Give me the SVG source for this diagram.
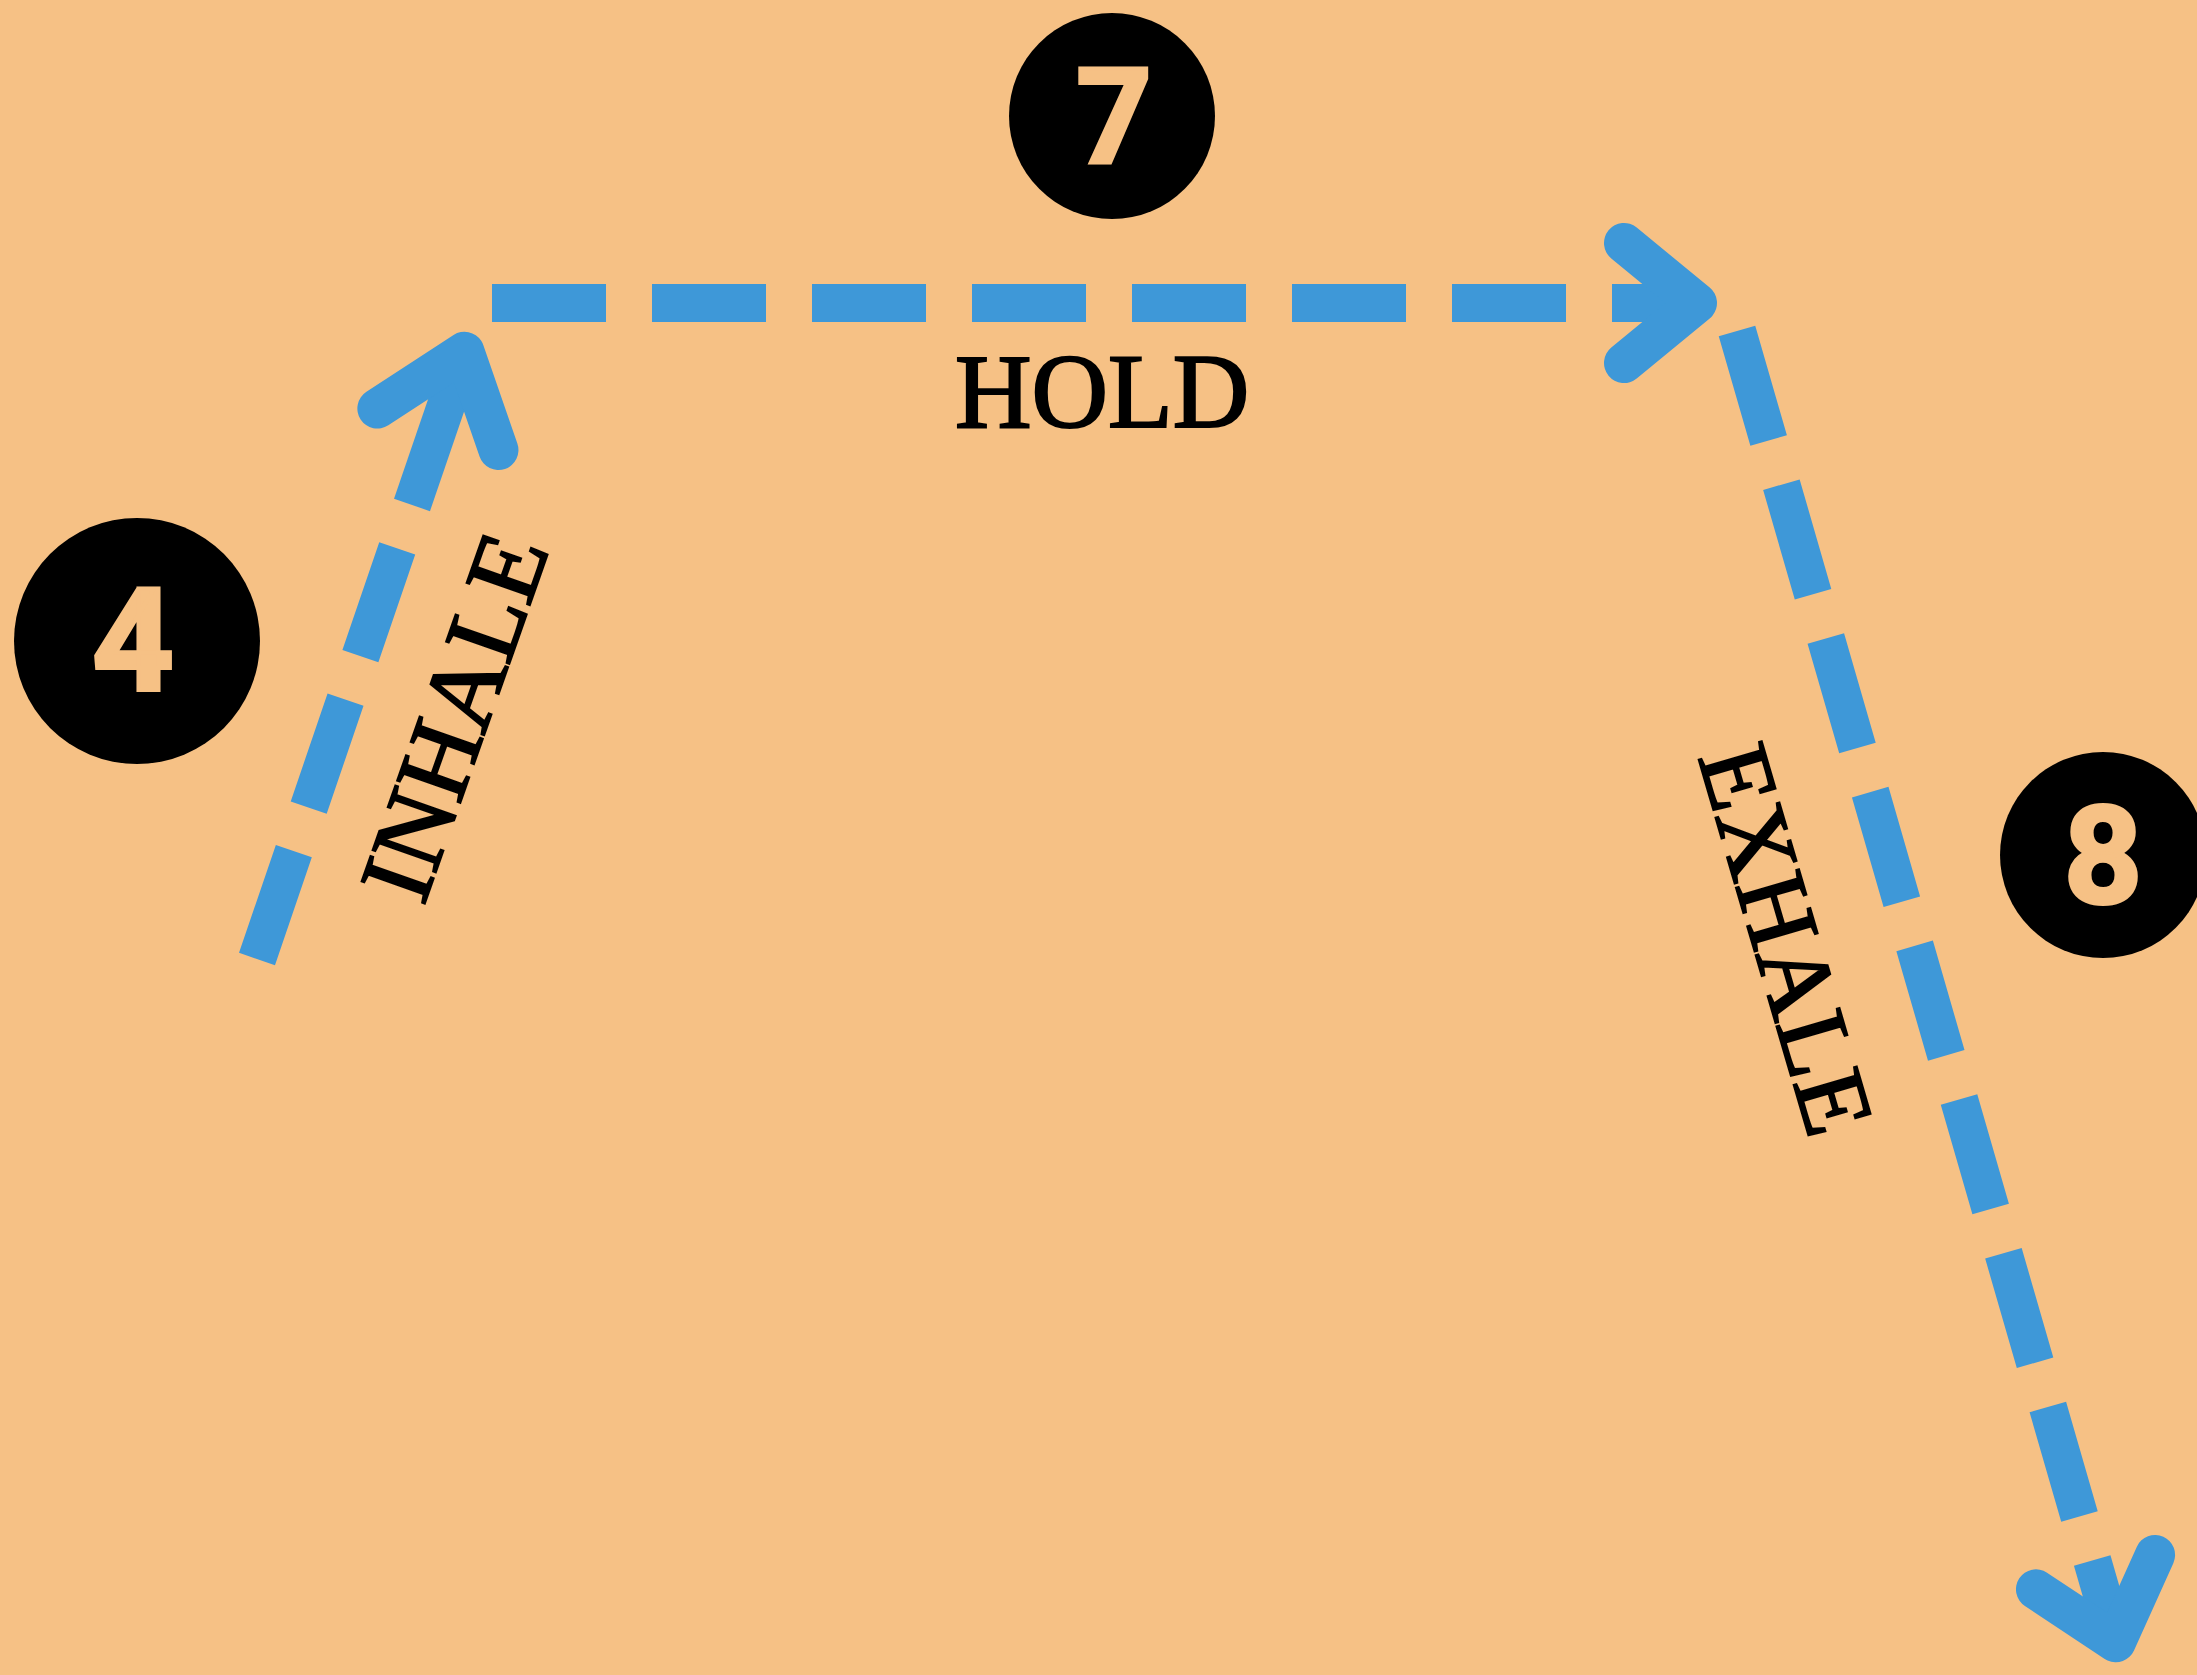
<svg xmlns="http://www.w3.org/2000/svg" width="2197" height="1675" viewBox="0 0 2197 1675">
  <style>
    .dash { fill: none; stroke: #3E98D8; stroke-width: 38; stroke-dasharray: 114 46; stroke-linecap: butt; }
    .stem { fill: none; stroke: #3E98D8; stroke-width: 38; stroke-linecap: butt; }
    .chev { fill: none; stroke: #3E98D8; stroke-width: 40; stroke-linecap: round; stroke-linejoin: round; }
    .badge { fill: #000000; }
    .num { fill: #F6C185; stroke: #F6C185; stroke-width: 4; text-anchor: middle; }
    .lbl { fill: #000000; stroke: #000000; stroke-width: 2.2; }
  </style>
  <rect x="0" y="0" width="2197" height="1675" fill="#F6C185"/>

  <g id="connectors">
    <g id="inhale-arrow">
      <line class="dash" x1="257" y1="959" x2="412" y2="505"/>
      <g transform="translate(412 505) rotate(-71.1)">
        <path class="stem" d="M0,0 L162,0"/>
        <path class="chev" d="M80,-64 L162,0 L80,64"/>
      </g>
    </g>
    <g id="hold-arrow">
      <line class="dash" x1="492" y1="303" x2="1612" y2="303"/>
      <g transform="translate(1612 303)">
        <path class="stem" d="M0,0 L85,0"/>
        <path class="chev" d="M12,-60 L85,0 L12,60"/>
      </g>
    </g>
    <g id="exhale-arrow">
      <line class="dash" x1="1737" y1="331" x2="2092.2" y2="1560.6"/>
      <g transform="translate(2092.2 1560.6) rotate(73.9)">
        <path class="stem" d="M0,0 L85,0"/>
        <path class="chev" d="M12,-62 L85,0 L12,62"/>
      </g>
    </g>
  </g>

  <g id="node-4">
    <circle class="badge" cx="137" cy="641" r="123"/>
    <text class="num" font-family="Roboto" font-weight="700" font-size="142" x="133" y="690">4</text>
  </g>
  <g id="node-7">
    <circle class="badge" cx="1112" cy="116" r="103"/>
    <text class="num" font-family="Roboto" font-weight="700" font-size="131" x="1114" y="162">7</text>
  </g>
  <g id="node-8">
    <circle class="badge" cx="2103" cy="855" r="103"/>
    <text class="num" font-family="Roboto" font-weight="700" font-size="136" x="2103" y="903">8</text>
  </g>

  <g id="label-hold">
    <text class="lbl" font-family="Liberation Serif, Times New Roman, serif" font-size="106" x="955" y="427">HOLD</text>
  </g>
  <g id="label-inhale">
    <text class="lbl" font-family="Liberation Serif, Times New Roman, serif" font-size="102" text-anchor="middle" transform="translate(486.5 728) rotate(-70.6)">INHALE</text>
  </g>
  <g id="label-exhale">
    <text class="lbl" font-family="Liberation Serif, Times New Roman, serif" font-size="100" text-anchor="middle" transform="translate(1754 949) rotate(73.7)">EXHALE</text>
  </g>
</svg>
